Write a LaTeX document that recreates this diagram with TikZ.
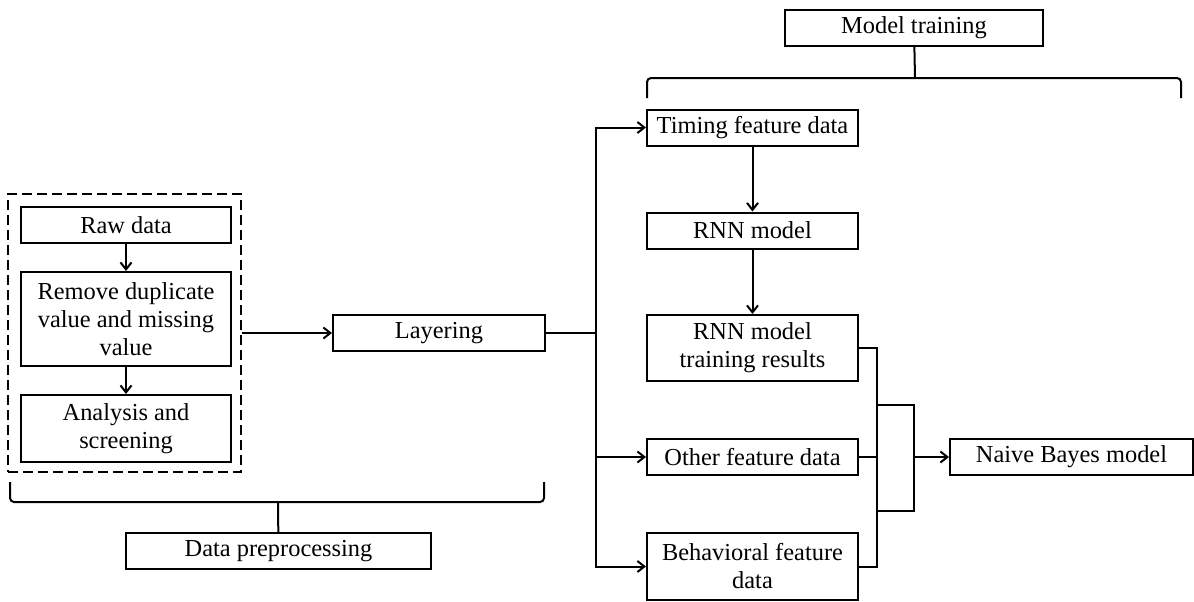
\documentclass[tikz,border=0pt]{standalone}
\usepackage{fontspec}
\setmainfont{Liberation Serif}
\usepackage{tikz}
\usetikzlibrary{arrows.meta}
\tikzset{
  box/.style={draw,inner sep=0pt,align=center,minimum height=18pt},
  dashbox/.style={draw,dash pattern=on 5pt off 2.5pt},
  arr/.style={-{Straight Barb[length=3.5pt,width=5.5pt]}},
  brace/.style={rounded corners=2pt}
}

\begin{document}
\begin{tikzpicture}[font=\fontsize{12.2}{14}\selectfont,x=0.5pt,y=-0.5pt,line width=1pt]
\useasboundingbox (0,0) rectangle (1194,601);
% preprocessing
\node[dashbox,minimum width=116.5pt,minimum height=139pt] (pre) at (124.5,333) {};
\node[box,minimum width=105pt] (raw) at (126,225) {Raw data};
\node[box,minimum width=105pt,minimum height=47pt] (remove) at (126,319) {Remove duplicate\\value and missing\\value};
\node[box,minimum width=105pt,minimum height=33.5pt] (analysis) at (126,428.5) {Analysis and\\screening};
\node[box,minimum width=152.5pt] (prep) at (278.5,551) {Data preprocessing};
\node[box,minimum width=106pt] (layer) at (439,333) {Layering};
% model training
\node[box,minimum width=129pt] (train) at (914,28) {Model training};
\node[box,minimum width=105.5pt] (timing) at (752.5,127.5) {Timing feature data};
\node[box,minimum width=105.5pt] (rnn) at (752.5,230.5) {RNN model};
\node[box,minimum width=105.5pt,minimum height=33pt] (results) at (752.5,348) {RNN model\\training results};
\node[box,minimum width=105.5pt] (other) at (752.5,457) {Other feature data};
\node[box,minimum width=105.5pt,minimum height=33.5pt] (behav) at (752.5,566.5) {Behavioral feature\\data};
\node[box,minimum width=121.5pt] (naive) at (1071.5,457) {Naive Bayes model};

% brackets
\coordinate (bl) at (10,482);
\coordinate (bm) at (278,502);
\coordinate (br) at (544,482);
\draw[brace] (bl) |- (bm) -| (br);
\draw (bm) -- (prep);
\coordinate (tl) at (647,98);
\coordinate (tm) at (915,78);
\coordinate (tr) at (1181,98);
\draw[brace] (tl) |- (tm) -| (tr);
\draw (train) -- (tm);

% flow
\draw[arr] (raw) -- (remove);
\draw[arr] (remove) -- (analysis);
\draw[arr] (pre) -- (layer);
\coordinate (split) at (596,333);
\draw (layer) -- (split);
\foreach \t in {timing,other,behav}
  \draw[arr] (split) |- (\t);
\draw[arr] (timing) -- (rnn);
\draw[arr] (rnn) -- (results);

% merge into the classifier
\coordinate (jtop) at (877,405);
\coordinate (jbot) at (877,511);
\coordinate (jout) at (914,457);
\draw (results) -| (jtop) -- (jbot) |- (behav);
\draw (other) -- (other -| jtop);
\draw (jtop) -| (jout);
\draw (jbot) -| (jout);
\draw[arr] (jout) -- (naive);
\end{tikzpicture}
\end{document}
